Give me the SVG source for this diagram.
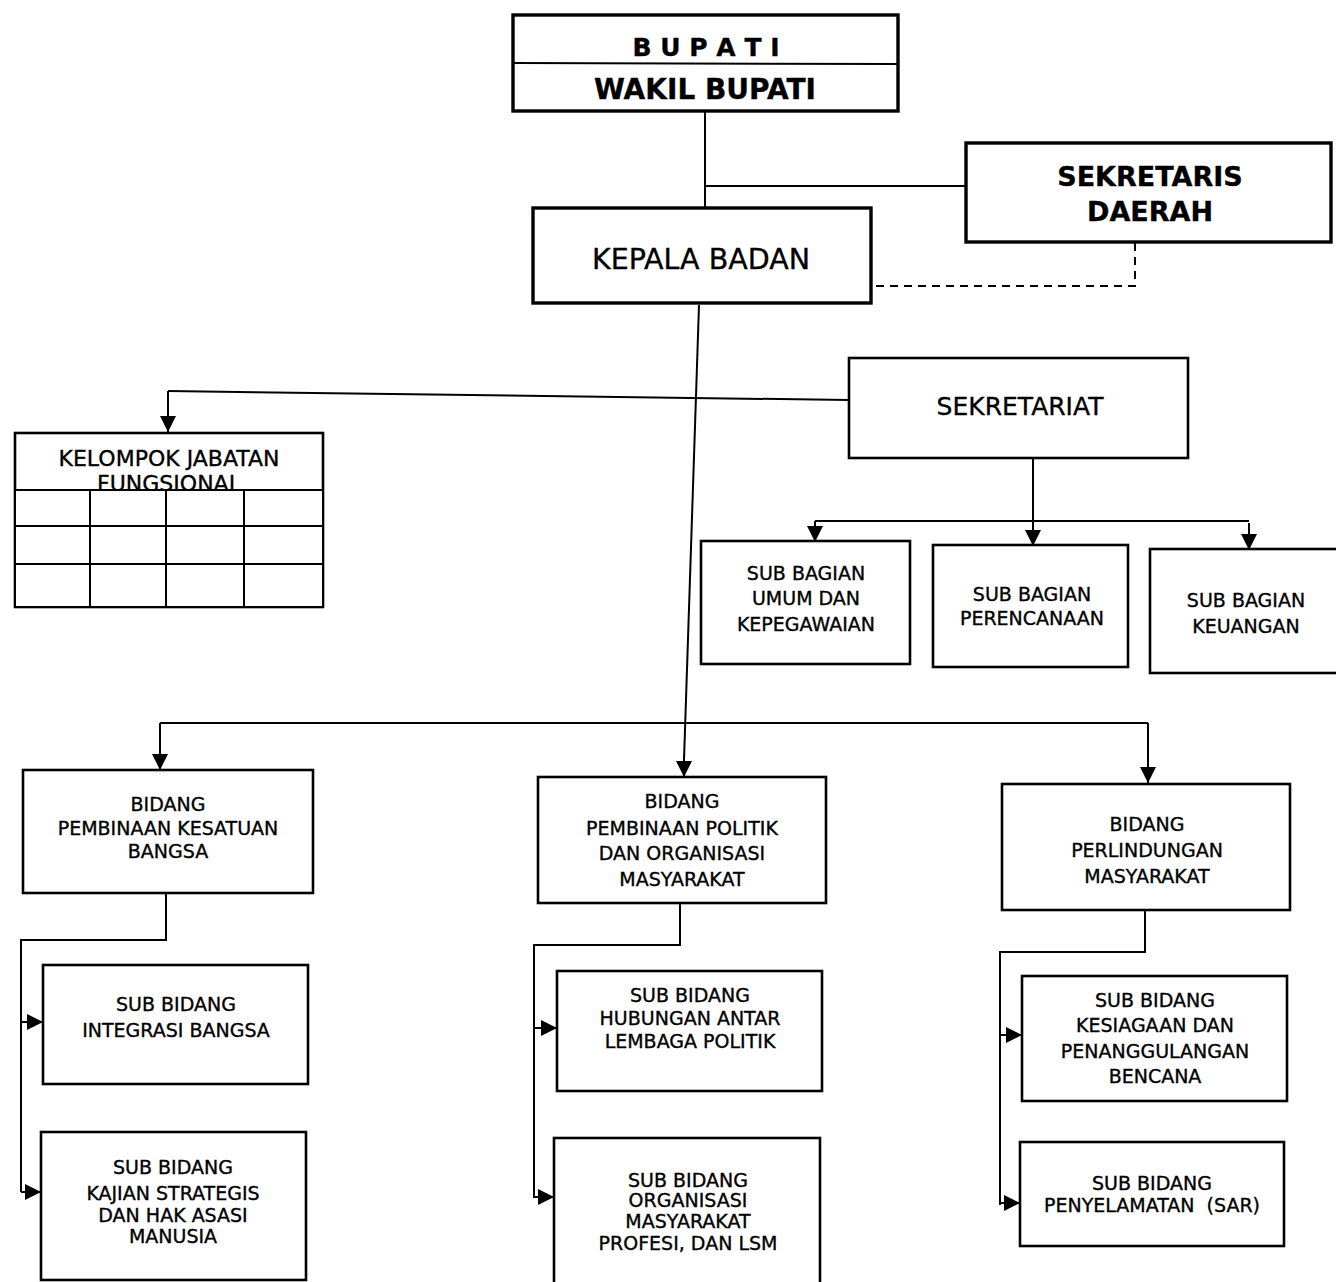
<svg xmlns="http://www.w3.org/2000/svg" width="1336" height="1282" viewBox="0 0 1336 1282">
<defs>
<marker id="ah" markerUnits="userSpaceOnUse" markerWidth="17" markerHeight="16" refX="16" refY="8" orient="auto">
<path d="M0,0 L16,8 L0,16 Z" fill="#000"/>
</marker>
<style>
text{font-family:"DejaVu Sans","Verdana",sans-serif;fill:#000;text-anchor:middle;stroke:#000;stroke-width:0.35}
.b{fill:#fff;stroke:#000;stroke-width:2.6}
.bt{fill:#fff;stroke:#000;stroke-width:3.4}
.s{font-size:19px}
.c{fill:none;stroke:#000;stroke-width:2}
.a{fill:none;stroke:#000;stroke-width:2;marker-end:url(#ah)}
.d{fill:none;stroke:#000;stroke-width:2;stroke-dasharray:8 6}
</style>
</defs>
<rect width="1336" height="1282" fill="#fff"/>

<g id="connectors">
<path class="c" d="M705,112 V207"/>
<path class="c" d="M705,186 H966"/>
<path class="d" d="M1135,243 V286 H872"/>
<path class="c" d="M699,305 L684,760"/>
<path class="a" d="M684,755 V777"/>
<path class="c" d="M849,400 L168,391"/>
<path class="a" d="M168,391 V432"/>
<path class="c" d="M1033,458 V523"/>
<path class="a" d="M1033,520 V546"/>
<path class="c" d="M815,521 H1249"/>
<path class="a" d="M815,521 V542"/>
<path class="a" d="M1249,523 V550"/>
<path class="c" d="M160,723 H1148"/>
<path class="a" d="M160,723 V770"/>
<path class="a" d="M1148,735 V783"/>
<path class="c" d="M1148,723 V740"/>
<path class="c" d="M166,893 V940 H21 V1192"/>
<path class="a" d="M21,1022 H43"/>
<path class="a" d="M21,1192 H41"/>
<path class="c" d="M680,903 V945 H534 V1198"/>
<path class="a" d="M534,1028 H557"/>
<path class="a" d="M534,1197 H554"/>
<path class="c" d="M1145,910 V952 H1000 V1205"/>
<path class="a" d="M1000,1035 H1022"/>
<path class="a" d="M1000,1203 H1020"/>
</g>

<g id="bupati">
<rect class="bt" x="513" y="15" width="385" height="96"/>
<line x1="513" y1="63" x2="898" y2="64" stroke="#000" stroke-width="2"/>
<text x="706" y="56" style="font-size:25px;font-weight:bold">B U P A T I</text>
<text x="705" y="99" style="font-size:28px;font-weight:bold">WAKIL BUPATI</text>
</g>

<g id="sekda">
<rect class="bt" x="966" y="143" width="365" height="99"/>
<text x="1150" y="186" style="font-size:27px;font-weight:bold">SEKRETARIS</text>
<text x="1150" y="221" style="font-size:27px;font-weight:bold">DAERAH</text>
</g>

<g id="kepala">
<rect class="bt" x="533" y="208" width="338" height="95"/>
<text x="701" y="269" style="font-size:28.5px">KEPALA BADAN</text>
</g>

<g id="sekretariat">
<rect class="b" x="849" y="358" width="339" height="100"/>
<text x="1020" y="415" style="font-size:25px">SEKRETARIAT</text>
</g>

<g id="kjf">
<rect class="b" x="15" y="433" width="308" height="174"/>
<text x="169" y="466" style="font-size:22px">KELOMPOK JABATAN</text>
<text x="169" y="491" style="font-size:22px">FUNGSIONAL</text>
<rect fill="#fff" stroke="none" x="16" y="490" width="306" height="116"/>
<path class="c" d="M15,490 H323 M15,526 H323 M15,564 H323 M90,490 V606 M166,490 V606 M244,490 V606"/>
</g>

<g id="sb-umum">
<rect class="b" x="701" y="541" width="209" height="123"/>
<text class="s" x="806" y="580">SUB BAGIAN</text>
<text class="s" x="806" y="605">UMUM DAN</text>
<text class="s" x="806" y="631">KEPEGAWAIAN</text>
</g>

<g id="sb-perencanaan">
<rect class="b" x="933" y="545" width="195" height="122"/>
<text class="s" x="1032" y="601">SUB BAGIAN</text>
<text class="s" x="1032" y="625">PERENCANAAN</text>
</g>

<g id="sb-keuangan">
<rect class="b" x="1150" y="549" width="190" height="124"/>
<text class="s" x="1246" y="607">SUB BAGIAN</text>
<text class="s" x="1246" y="633">KEUANGAN</text>
</g>

<g id="bidang-kesatuan">
<rect class="b" x="23" y="770" width="290" height="123"/>
<text class="s" x="168" y="811">BIDANG</text>
<text class="s" x="168" y="835">PEMBINAAN KESATUAN</text>
<text class="s" x="168" y="858">BANGSA</text>
</g>

<g id="sb-integrasi">
<rect class="b" x="43" y="965" width="265" height="119"/>
<text class="s" x="176" y="1011">SUB BIDANG</text>
<text class="s" x="176" y="1037">INTEGRASI BANGSA</text>
</g>

<g id="sb-kajian">
<rect class="b" x="41" y="1132" width="265" height="148"/>
<text class="s" x="173" y="1174">SUB BIDANG</text>
<text class="s" x="173" y="1200">KAJIAN STRATEGIS</text>
<text class="s" x="173" y="1222">DAN HAK ASASI</text>
<text class="s" x="173" y="1243">MANUSIA</text>
</g>

<g id="bidang-politik">
<rect class="b" x="538" y="777" width="288" height="126"/>
<text class="s" x="682" y="808">BIDANG</text>
<text class="s" x="682" y="835">PEMBINAAN POLITIK</text>
<text class="s" x="682" y="860">DAN ORGANISASI</text>
<text class="s" x="682" y="886">MASYARAKAT</text>
</g>

<g id="sb-hubungan">
<rect class="b" x="557" y="971" width="265" height="120"/>
<text class="s" x="690" y="1002">SUB BIDANG</text>
<text class="s" x="690" y="1025">HUBUNGAN ANTAR</text>
<text class="s" x="690" y="1048">LEMBAGA POLITIK</text>
</g>

<g id="sb-organisasi">
<rect class="b" x="554" y="1138" width="266" height="150"/>
<text class="s" x="688" y="1187">SUB BIDANG</text>
<text class="s" x="688" y="1207">ORGANISASI</text>
<text class="s" x="688" y="1228">MASYARAKAT</text>
<text class="s" x="688" y="1250">PROFESI, DAN LSM</text>
</g>

<g id="bidang-perlindungan">
<rect class="b" x="1002" y="784" width="288" height="126"/>
<text class="s" x="1147" y="831">BIDANG</text>
<text class="s" x="1147" y="857">PERLINDUNGAN</text>
<text class="s" x="1147" y="883">MASYARAKAT</text>
</g>

<g id="sb-kesiagaan">
<rect class="b" x="1022" y="976" width="265" height="125"/>
<text class="s" x="1155" y="1007">SUB BIDANG</text>
<text class="s" x="1155" y="1032">KESIAGAAN DAN</text>
<text class="s" x="1155" y="1058">PENANGGULANGAN</text>
<text class="s" x="1155" y="1083">BENCANA</text>
</g>

<g id="sb-sar">
<rect class="b" x="1020" y="1142" width="264" height="104"/>
<text class="s" x="1152" y="1190">SUB BIDANG</text>
<text class="s" x="1152" y="1212" xml:space="preserve">PENYELAMATAN  (SAR)</text>
</g>
</svg>
